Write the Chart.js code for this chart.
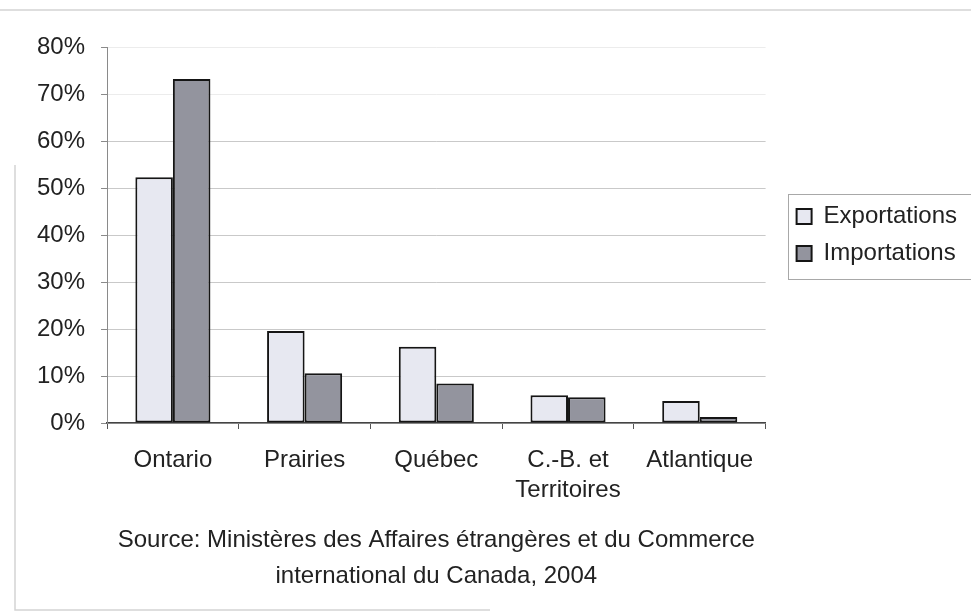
<!DOCTYPE html>
<html>
<head>
<meta charset="utf-8">
<script src="https://cdn.jsdelivr.net/npm/chart.js@4/dist/chart.umd.min.js"></script>
<style>
  html, body { margin: 0; padding: 0; background: #ffffff; }
  #wrap { width: 971px; height: 615px; position: relative; }
  canvas { display: block; }
</style>
</head>
<body>
<div id="wrap"><canvas id="chart" width="971" height="615"></canvas></div>
<script>
// Répartition régionale du commerce canadien (en % du total)
const regions = ['Ontario', 'Prairies', 'Québec', ['C.-B. et', 'Territoires'], 'Atlantique'];
const exportations = [52.3, 19.6, 16.2, 5.9, 4.7];
const importations = [73.2, 10.6, 8.4, 5.5, 1.3];
const seriesNames = ['Exportations', 'Importations'];
const percentTicks = ['0%', '10%', '20%', '30%', '40%', '50%', '60%', '70%', '80%'];
const sourceLines = [
  'Source: Ministères des Affaires étrangères et du Commerce',
  'international du Canada, 2004'
];

const FONT = "'Liberation Sans', Arial, Helvetica, sans-serif";
const FONT_SIZE = 24;
const LEGEND_GAP = 18;   // space between the plot and the legend block
Chart.defaults.font.family = FONT;
Chart.defaults.color = '#222222';

// White page with the faint outline of the surrounding box
const pageFrame = {
  id: 'pageFrame',
  beforeDraw(chart) {
    const ctx = chart.ctx;
    ctx.save();
    ctx.fillStyle = '#ffffff';
    ctx.fillRect(0, 0, chart.width, chart.height);
    ctx.strokeStyle = '#d4d4d4';
    ctx.lineWidth = 1.5;
    ctx.beginPath();
    ctx.moveTo(0, 10); ctx.lineTo(chart.width, 10);
    ctx.moveTo(15, 165); ctx.lineTo(15, 610);
    ctx.lineTo(490, 610);
    ctx.stroke();
    ctx.restore();
  }
};

// Reserve a gap to the left of the legend, then shift the legend into it
const legendGap = {
  id: 'legendGap',
  beforeInit(chart) {
    const lg = chart.legend;
    if (!lg) return;
    const fit = lg.fit;
    lg.fit = function () {
      fit.call(this);
      this.width += LEGEND_GAP;
    };
  },
  afterLayout(chart) {
    const lg = chart.legend;
    if (!lg) return;
    lg.left += LEGEND_GAP;
    lg.right += LEGEND_GAP;
  }
};

// Thin border around the legend entries
const legendFrame = {
  id: 'legendFrame',
  afterDraw(chart) {
    const lg = chart.legend;
    if (!lg || !lg.legendHitBoxes || !lg.legendHitBoxes.length) return;
    const boxes = lg.legendHitBoxes;
    const first = boxes[0], last = boxes[boxes.length - 1];
    const pad = lg.options.labels.padding;
    const ctx = chart.ctx;
    ctx.save();
    ctx.strokeStyle = '#a8a8a8';
    ctx.lineWidth = 1;
    const x = Math.round(lg.left + pad - 9) + 0.5;
    const y = Math.round(first.top - 11) + 0.5;
    const b = Math.round(last.top + last.height + 13) + 0.5;
    ctx.strokeRect(x, y, chart.width + 10 - x, b - y);
    ctx.restore();
  }
};

new Chart(document.getElementById('chart'), {
  type: 'bar',
  data: {
    labels: regions,
    datasets: [
      {
        label: seriesNames[0],
        data: exportations,
        backgroundColor: '#e7e8f1',
        borderColor: '#151515',
        borderWidth: 2,
        borderSkipped: false
      },
      {
        label: seriesNames[1],
        data: importations,
        backgroundColor: '#93949e',
        borderColor: '#151515',
        borderWidth: 2,
        borderSkipped: false
      }
    ]
  },
  options: {
    responsive: false,
    animation: false,
    devicePixelRatio: 1,
    layout: { padding: { left: 21, top: 47, right: 4, bottom: 11 } },
    datasets: {
      bar: { categoryPercentage: 0.57, barPercentage: 1.0 }
    },
    scales: {
      x: {
        grid: {
          display: true,
          drawOnChartArea: false,
          offset: true,
          tickLength: 6,
          tickColor: '#555555'
        },
        border: { color: '#444444', width: 1.5 },
        ticks: {
          padding: 16,
          maxRotation: 0,
          autoSkip: false,
          color: '#222222',
          font: { size: FONT_SIZE, lineHeight: 1.25 }
        }
      },
      y: {
        min: 0,
        max: 80,
        grid: {
          color: (c) => (c.tick && c.tick.value >= 70 ? '#ececec' : '#c9c9c9'),
          lineWidth: 1,
          tickLength: 6,
          tickColor: '#8a8a8a'
        },
        border: { color: '#8a8a8a', width: 1 },
        ticks: {
          stepSize: 10,
          padding: 16,
          color: '#222222',
          font: { size: FONT_SIZE },
          callback: (v) => percentTicks[Math.round(v / 10)]
        }
      }
    },
    plugins: {
      legend: {
        display: true,
        position: 'right',
        fullSize: false,
        labels: {
          boxWidth: 15,
          boxHeight: 15,
          padding: 13,
          color: '#222222',
          font: { size: FONT_SIZE }
        }
      },
      title: {
        display: true,
        position: 'bottom',
        fullSize: false,
        text: sourceLines,
        color: '#222222',
        font: { size: FONT_SIZE, weight: 'normal', lineHeight: 1.5 },
        padding: { top: 1, bottom: 10 }
      },
      tooltip: { enabled: false }
    }
  },
  plugins: [pageFrame, legendGap, legendFrame]
});
</script>
</body>
</html>
